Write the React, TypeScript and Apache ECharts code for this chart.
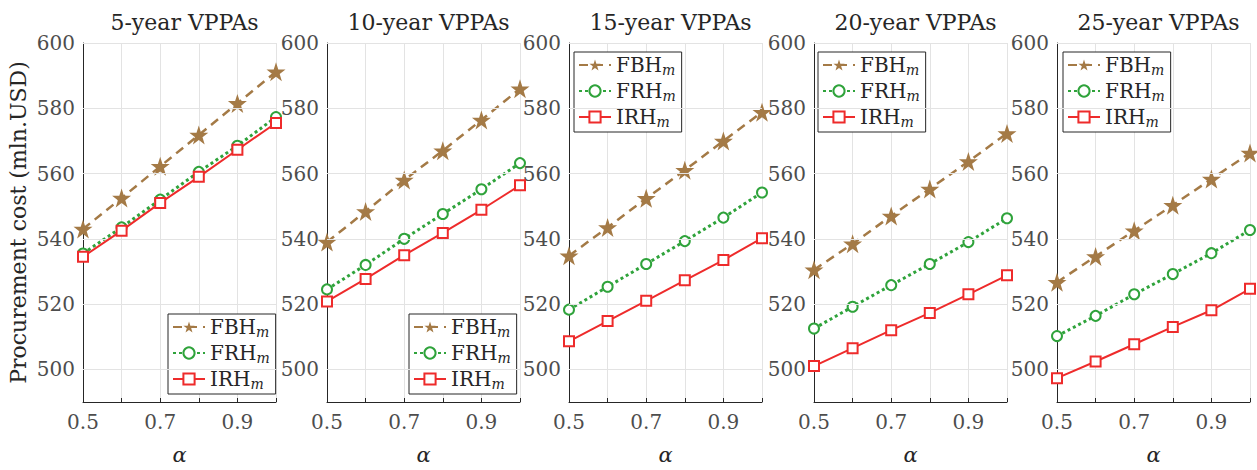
import React, { useEffect, useRef } from "react";
import * as echarts from "echarts";

const alphas = [0.5, 0.6, 0.7, 0.8, 0.9, 1.0];
const panelTitles = ["5-year VPPAs", "10-year VPPAs", "15-year VPPAs", "20-year VPPAs", "25-year VPPAs"];
const seriesNames = ["FBH", "FRH", "IRH"];

const fbh = [
  [543.0, 552.5, 562.2, 571.8, 581.5, 591.2],
  [539.0, 548.4, 558.0, 567.0, 576.4, 586.0],
  [534.8, 543.5, 552.4, 561.0, 570.0, 578.8],
  [530.5, 538.5, 547.0, 555.3, 563.7, 572.3],
  [526.7, 534.6, 542.5, 550.3, 558.3, 566.3],
];
const frh = [
  [535.5, 543.5, 552.0, 560.5, 568.5, 577.3],
  [524.5, 532.0, 540.0, 547.6, 555.2, 563.2],
  [518.3, 525.3, 532.3, 539.3, 546.5, 554.2],
  [512.5, 519.2, 525.8, 532.3, 539.0, 546.3],
  [510.2, 516.4, 523.0, 529.2, 535.6, 542.7],
];
const irh = [
  [534.5, 542.5, 551.0, 559.0, 567.3, 575.5],
  [520.8, 527.7, 535.0, 541.8, 548.9, 556.4],
  [508.6, 514.8, 521.0, 527.3, 533.5, 540.2],
  [501.0, 506.5, 512.0, 517.3, 523.0, 528.8],
  [497.3, 502.4, 507.7, 513.0, 518.1, 524.7],
];
const yTickValues = [500, 520, 540, 560, 580, 600];
const xLabelValues = [0.5, 0.7, 0.9];

const FONT = "DejaVu Serif";
const C_FBH = "#A47A46";
const C_FRH = "#2FA33B";
const C_IRH = "#EE2B2B";
const STAR = "path://M50,0 L61.8,35.1 L98.9,35.1 L69.1,57 L80.3,92.1 L50,70.5 L19.7,92.1 L30.9,57 L1.1,35.1 L38.2,35.1 Z";

const lefts = [83, 327, 569, 814, 1057];
const W = 193;
const TOP = 43;
const H = 361;
const legendPos = [
  [168, 314],
  [409, 314],
  [574, 52],
  [818, 52],
  [1063, 52],
];

function pairs(vals: number[]) {
  return alphas.map((a, i) => [a, vals[i]]);
}

export default function App() {
  const ref = useRef<HTMLDivElement>(null);
  useEffect(() => {
    if (!ref.current) return;
    const chart = echarts.init(ref.current, undefined, { renderer: "svg" });
    const grids: any[] = [];
    const xAxes: any[] = [];
    const yAxes: any[] = [];
    const series: any[] = [];
    const titles: any[] = [];
    const legends: any[] = [];
    for (let p = 0; p < 5; p++) {
      grids.push({ left: lefts[p], top: TOP, width: W, height: H, containLabel: false });
      titles.push({
        text: panelTitles[p],
        left: lefts[p] + W / 2,
        top: 6,
        textAlign: "center",
        textStyle: { fontFamily: FONT, fontSize: 22, fontWeight: "normal", color: "#262626" },
      });
      xAxes.push({
        type: "value",
        gridIndex: p,
        min: 0.5,
        max: 1.0,
        interval: 0.1,
        name: "α",
        nameLocation: "middle",
        nameGap: 42,
        nameTextStyle: { fontFamily: FONT, fontSize: 21, fontStyle: "italic", color: "#262626" },
        axisLine: { show: true, lineStyle: { color: "#262626", width: 1 } },
        axisTick: { show: true, inside: true, length: 4, lineStyle: { color: "#262626" } },
        axisLabel: {
          fontFamily: FONT,
          fontSize: 20,
          color: "#4d4d4d",
          margin: 10,
          formatter: (v: number) => {
            const r = Math.round(v * 10) / 10;
            return xLabelValues.some((x) => Math.abs(x - r) < 1e-6) ? r.toFixed(1) : "";
          },
        },
        splitLine: { show: true, lineStyle: { color: "#e3e3e3", width: 1 } },
      });
      yAxes.push({
        type: "value",
        gridIndex: p,
        min: 490,
        max: 600,
        interval: 10,
        name: p === 0 ? "Procurement cost (mln.USD)" : "",
        nameLocation: "middle",
        nameGap: 54,
        nameRotate: 90,
        nameTextStyle: { fontFamily: FONT, fontSize: 22, color: "#262626" },
        axisLine: { show: true, lineStyle: { color: "#262626", width: 1 } },
        axisTick: { show: true, inside: true, length: 4, customValues: yTickValues, lineStyle: { color: "#262626" } },
        axisLabel: {
          fontFamily: FONT,
          fontSize: 20,
          color: "#4d4d4d",
          margin: 8,
          formatter: (v: number) => (yTickValues.indexOf(Math.round(v)) >= 0 ? String(Math.round(v)) : ""),
        },
        splitLine: { show: false },
      });
      series.push({
        type: "line",
        name: "_grid" + p,
        xAxisIndex: p,
        yAxisIndex: p,
        data: pairs(irh[p]),
        symbol: "none",
        lineStyle: { opacity: 0 },
        silent: true,
        z: 1,
        markLine: {
          silent: true,
          symbol: ["none", "none"],
          label: { show: false },
          lineStyle: { color: "#e3e3e3", type: "solid", width: 1 },
          data: yTickValues.map((v) => ({ yAxis: v })),
        },
      });
      series.push({
        type: "line",
        name: "FBH",
        xAxisIndex: p,
        yAxisIndex: p,
        data: pairs(fbh[p]),
        symbol: STAR,
        symbolSize: 19,
        itemStyle: { color: C_FBH },
        lineStyle: { color: C_FBH, width: 2.5, type: [9, 6] },
        z: 3,
      });
      series.push({
        type: "line",
        name: "FRH",
        xAxisIndex: p,
        yAxisIndex: p,
        data: pairs(frh[p]),
        symbol: "emptyCircle",
        symbolSize: 10,
        itemStyle: { color: C_FRH, borderWidth: 3 },
        lineStyle: { color: C_FRH, width: 3, type: [3, 3] },
        z: 4,
      });
      series.push({
        type: "line",
        name: "IRH",
        xAxisIndex: p,
        yAxisIndex: p,
        data: pairs(irh[p]),
        symbol: "emptyRect",
        symbolSize: 10,
        itemStyle: { color: C_IRH, borderWidth: 1.6 },
        lineStyle: { color: C_IRH, width: 2 },
        z: 5,
      });
      legends.push({
        data: seriesNames,
        orient: "vertical",
        left: legendPos[p][0],
        top: legendPos[p][1],
        itemWidth: 32,
        itemHeight: 14,
        itemGap: 4,
        padding: [3, 6, 3, 4],
        borderColor: "#262626",
        borderWidth: 1,
        backgroundColor: "#ffffff",
        selectedMode: false,
        formatter: (name: string) => `{a|${name}}{b|m}`,
        textStyle: {
          fontFamily: FONT,
          fontSize: 20,
          color: "#262626",
          rich: {
            a: { fontFamily: FONT, fontSize: 20, color: "#262626" },
            b: { fontFamily: FONT, fontSize: 14, fontStyle: "italic", color: "#262626", padding: [10, 0, 0, 0] },
          },
        },
      });
    }
    chart.setOption({
      animation: false,
      backgroundColor: "#ffffff",
      title: titles,
      grid: grids,
      xAxis: xAxes,
      yAxis: yAxes,
      legend: legends,
      series,
    });
    return () => chart.dispose();
  }, []);
  return <div ref={ref} style={{ position: "fixed", left: 0, top: 0, width: 1257, height: 470 }} />;
}
